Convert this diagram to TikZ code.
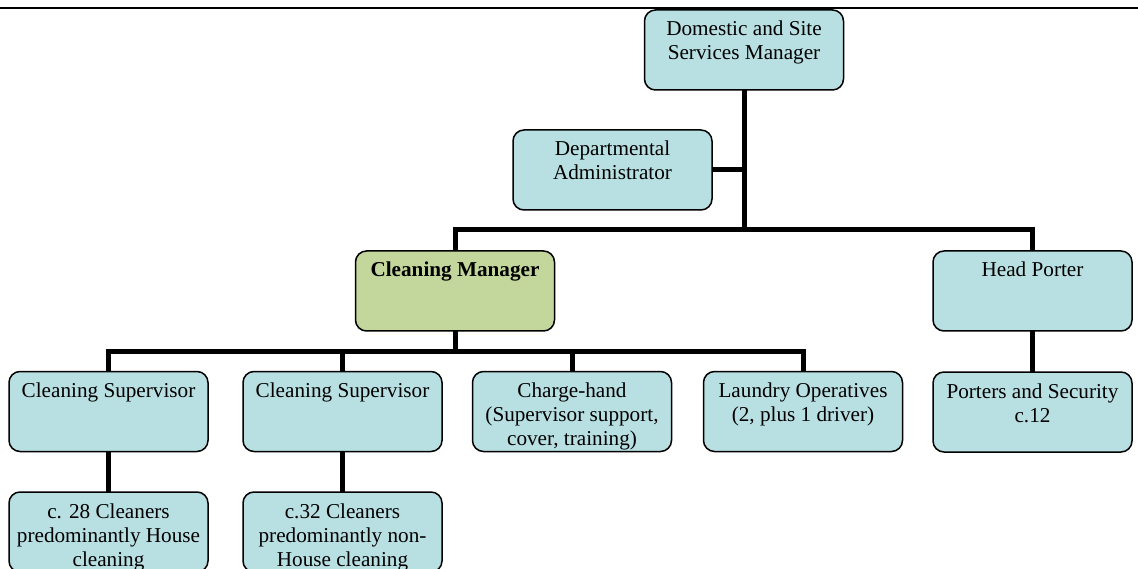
\documentclass[tikz,border=0pt]{standalone}
\usepackage{fontspec}
\setmainfont{Liberation Serif}
\definecolor{boxblue}{RGB}{184,223,226}
\definecolor{boxgreen}{RGB}{195,214,155}
\tikzset{
  orgbox/.style={draw=black, line width=1.5pt, rounded corners=11pt, fill=boxblue, inner sep=0pt, outer sep=0pt},
  link/.style={line width=5pt, draw=black},
  rulebar/.style={line width=2.5pt, draw=black}
}
\newcommand{\boxtext}[1]{\parbox[c][80pt][t]{199pt}{\centering\fontsize{21.2}{24}\selectfont\rule{0pt}{26pt}#1}}
\begin{document}
\begin{tikzpicture}[x=1pt,y=-1pt]
\useasboundingbox (0,0) rectangle (1138,569);
\clip (0,0) rectangle (1138,569);
\coordinate (tl) at (0,8);
\coordinate (tr) at (1138,8);
\draw[rulebar] (tl) -- (tr);

\node[orgbox] (dom) at (744,50) {\boxtext{Domestic and Site\\Services Manager}};
\node[orgbox] (dept) at (612.5,170) {\boxtext{Departmental\\Administrator}};
\node[orgbox, fill=boxgreen] (cm) at (455,291) {\boxtext{\textbf{Cleaning Manager}}};
\node[orgbox] (hp) at (1032.5,291) {\boxtext{Head Porter}};
\node[orgbox] (sup1) at (108.5,411.5) {\boxtext{Cleaning Supervisor}};
\node[orgbox] (sup2) at (342.5,411.5) {\boxtext{Cleaning Supervisor}};
\node[orgbox] (ch) at (572,411.5) {\boxtext{Charge-hand\\(Supervisor support,\\cover, training)}};
\node[orgbox] (lo) at (803,411.5) {\boxtext{Laundry Operatives\\(2, plus 1 driver)}};
\node[orgbox] (por) at (1032.5,412) {\boxtext{Porters and Security\\c.12}};
\node[orgbox] (cl1) at (108.5,532) {\boxtext{c. 28 Cleaners\\predominantly House\\cleaning}};
\node[orgbox] (cl2) at (342.5,532) {\boxtext{c.32 Cleaners\\predominantly non-\\House cleaning}};

\coordinate (bus) at (744,230);
\coordinate (lbus) at (455,351);
\draw[link] (dom.south) -- (dom.south |- bus);
\draw[link] (dept.east) -- (dept.east -| bus);
\draw[link] (cm.north) |- (bus) -| (hp.north);
\draw[link] (cm.south) -- (lbus);
\draw[link] (sup1.north) |- (lbus) -| (lo.north);
\draw[link] (sup2.north) -- (sup2.north |- lbus);
\draw[link] (ch.north) -- (ch.north |- lbus);
\draw[link] (sup1.south) -- (cl1.north);
\draw[link] (sup2.south) -- (cl2.north);
\draw[link] (hp.south) -- (por.north);
\end{tikzpicture}
\end{document}
